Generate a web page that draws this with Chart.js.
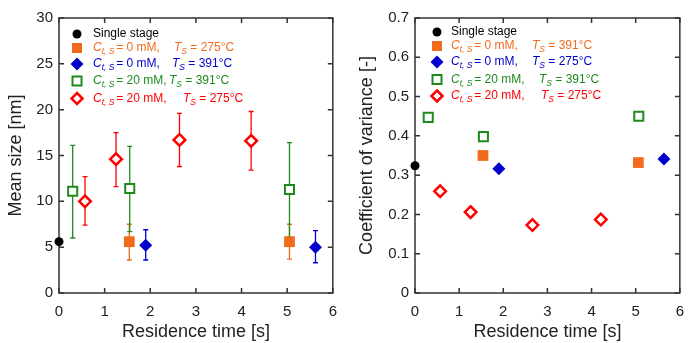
<!DOCTYPE html>
<html>
<head>
<meta charset="utf-8">
<script src="https://cdn.jsdelivr.net/npm/chart.js@4.4.1/dist/chart.umd.min.js"></script>
<style>
  html, body { margin: 0; padding: 0; background: #fff; }
  #wrap { position: relative; width: 694px; height: 343px; }
  #wrap canvas { position: absolute; top: 0; }
</style>
</head>
<body>
<div id="wrap">
  <canvas id="sizeChart" width="347" height="343" style="left:0"></canvas>
  <canvas id="cvChart" width="347" height="343" style="left:347px"></canvas>
</div>
<script>
// ---- data ----
const xTicks = [0, 1, 2, 3, 4, 5, 6];

// left panel: mean size [nm] with error bars
const singleX = [0];
const singleSize = [5.6];

const orangeX = [1.54, 5.05];
const orangeSize = [5.6, 5.6];
const orangeLo = [3.6, 3.7];
const orangeHi = [7.5, 7.5];

const blueX = [1.90, 5.62];
const blueSize = [5.2, 5.0];
const blueLo = [3.6, 3.3];
const blueHi = [6.9, 6.8];

const greenX = [0.30, 1.55, 5.05];
const greenSize = [11.1, 11.4, 11.3];
const greenLo = [6.0, 6.7, 6.1];
const greenHi = [16.1, 16.0, 16.4];

const redX = [0.57, 1.25, 2.64, 4.21];
const redSize = [10.0, 14.6, 16.7, 16.6];
const redLo = [7.4, 11.6, 13.8, 13.4];
const redHi = [12.7, 17.5, 19.6, 19.8];

// right panel: coefficient of variance [-]
const singleCvX = [0];
const singleCv = [0.324];
const orangeCvX = [1.54, 5.06];
const orangeCv = [0.350, 0.332];
const blueCvX = [1.90, 5.64];
const blueCv = [0.316, 0.341];
const greenCvX = [0.30, 1.55, 5.07];
const greenCv = [0.447, 0.398, 0.450];
const redCvX = [0.57, 1.26, 2.66, 4.21];
const redCv = [0.259, 0.206, 0.173, 0.187];

const leftLegend = [
  { c: null, t: null, label: 'Single stage' },
  { c: ' = 0 mM,', t: ' = 275°C' },
  { c: ' = 0 mM,', t: ' = 391°C' },
  { c: ' = 20 mM,', t: ' = 391°C' },
  { c: ' = 20 mM,', t: ' = 275°C' }
];
const rightLegend = [
  { c: null, t: null, label: 'Single stage' },
  { c: ' = 0 mM,', t: ' = 391°C' },
  { c: ' = 0 mM,', t: ' = 275°C' },
  { c: ' = 20 mM,', t: ' = 391°C' },
  { c: ' = 20 mM,', t: ' = 275°C' }
];

const BLACK = '#000000';
const ORANGE = '#f26b1d';
const BLUE = '#0000cc';
const GREEN = '#1e8a1e';
const RED = '#ff0000';
const FONT = '"Liberation Sans", Arial, Helvetica, sans-serif';

const pts = (xs, ys) => xs.map((v, i) => ({ x: v, y: ys[i] }));

// error bars drawn under the markers
const errorBars = {
  id: 'errorBars',
  beforeDatasetsDraw(chart) {
    const { ctx, scales: { x, y } } = chart;
    ctx.save();
    chart.data.datasets.forEach(ds => {
      if (!ds.errLo) return;
      ctx.strokeStyle = ds.borderColor;
      ctx.lineWidth = 1.3;
      ds.data.forEach((p, i) => {
        const px = x.getPixelForValue(p.x);
        const top = y.getPixelForValue(ds.errHi[i]);
        const bot = y.getPixelForValue(ds.errLo[i]);
        ctx.beginPath();
        ctx.moveTo(px, top); ctx.lineTo(px, bot);
        ctx.moveTo(px - 2.5, top); ctx.lineTo(px + 2.5, top);
        ctx.moveTo(px - 2.5, bot); ctx.lineTo(px + 2.5, bot);
        ctx.stroke();
      });
    });
    ctx.restore();
  }
};

// box with inward ticks on all four sides
const frame = {
  id: 'frame',
  beforeDatasetsDraw(chart) {
    const { ctx, chartArea: a, scales: { x, y } } = chart;
    ctx.save();
    ctx.strokeStyle = '#333';
    ctx.lineWidth = 1.5;
    ctx.strokeRect(a.left, a.top, a.right - a.left, a.bottom - a.top);
    ctx.beginPath();
    x.ticks.forEach(t => {
      const px = x.getPixelForValue(t.value);
      ctx.moveTo(px, a.bottom); ctx.lineTo(px, a.bottom - 5);
      ctx.moveTo(px, a.top); ctx.lineTo(px, a.top + 5);
    });
    y.ticks.forEach(t => {
      const py = y.getPixelForValue(t.value);
      ctx.moveTo(a.left, py); ctx.lineTo(a.left + 5, py);
      ctx.moveTo(a.right, py); ctx.lineTo(a.right - 5, py);
    });
    ctx.stroke();
    ctx.restore();
  }
};

function drawMarker(ctx, kind, color, cx, cy) {
  ctx.save();
  ctx.beginPath();
  if (kind === 'circle') {
    ctx.arc(cx, cy, 4.5, 0, Math.PI * 2);
    ctx.fillStyle = color; ctx.fill();
  } else if (kind === 'square') {
    ctx.fillStyle = color; ctx.fillRect(cx - 5, cy - 5, 10, 10);
  } else if (kind === 'diamond') {
    ctx.moveTo(cx, cy - 6.5); ctx.lineTo(cx + 6.5, cy); ctx.lineTo(cx, cy + 6.5); ctx.lineTo(cx - 6.5, cy);
    ctx.closePath(); ctx.fillStyle = color; ctx.fill();
  } else if (kind === 'osquare') {
    ctx.strokeStyle = color; ctx.lineWidth = 2; ctx.strokeRect(cx - 4.5, cy - 4.5, 9, 9);
  } else if (kind === 'odiamond') {
    ctx.moveTo(cx, cy - 5.5); ctx.lineTo(cx + 5.5, cy); ctx.lineTo(cx, cy + 5.5); ctx.lineTo(cx - 5.5, cy);
    ctx.closePath(); ctx.fillStyle = '#fff'; ctx.fill();
    ctx.strokeStyle = color; ctx.lineWidth = 2.5; ctx.stroke();
  }
  ctx.restore();
}

// text with an italic symbol and italic subscript, returns end x
function symText(ctx, x, y, sym, sub, rest, kern) {
  ctx.font = 'italic 12px ' + FONT;
  ctx.fillText(sym, x, y);
  x += ctx.measureText(sym).width;
  ctx.font = 'italic 8.5px ' + FONT;
  ctx.fillText(sub, x, y + 4);
  x += ctx.measureText(sub).width + kern;
  ctx.font = '12px ' + FONT;
  ctx.fillText(rest, x, y);
  return x + ctx.measureText(rest).width;
}

const legendKinds = ['circle', 'square', 'diamond', 'osquare', 'odiamond'];
const legendColors = [BLACK, ORANGE, BLUE, GREEN, RED];

const richLegend = {
  id: 'richLegend',
  afterDraw(chart, args, o) {
    const { ctx } = chart;
    ctx.save();
    ctx.textBaseline = 'middle';
    o.items.forEach((it, i) => {
      const ry = o.rows[i];
      drawMarker(ctx, legendKinds[i], legendColors[i], o.markerX, ry);
      ctx.fillStyle = legendColors[i];
      if (it.label) {
        ctx.font = '12px ' + FONT;
        ctx.fillText(it.label, o.textX, ry);
      } else {
        symText(ctx, o.textX, ry, 'C', 't, S', it.c, -1.5);
        symText(ctx, o.tX[i], ry, 'T', 'S', it.t, 0);
      }
    });
    ctx.restore();
  }
};

function buildDatasets(sx, sy, ox, oy, bx, by, gx, gy, rx, ry, bars) {
  const d = [
    { label: 'Single stage', data: pts(sx, sy), pointStyle: 'circle', pointRadius: 4.5,
      backgroundColor: BLACK, borderColor: BLACK, borderWidth: 0 },
    { label: 'orange', data: pts(ox, oy), pointStyle: 'rect', pointRadius: 7.6,
      backgroundColor: ORANGE, borderColor: ORANGE, borderWidth: 0 },
    { label: 'blue', data: pts(bx, by), pointStyle: 'rectRot', pointRadius: 6.5,
      backgroundColor: BLUE, borderColor: BLUE, borderWidth: 0 },
    { label: 'green', data: pts(gx, gy), pointStyle: 'rect', pointRadius: 6.4,
      backgroundColor: '#fff', borderColor: GREEN, borderWidth: 2 },
    { label: 'red', data: pts(rx, ry), pointStyle: 'rectRot', pointRadius: 5.8,
      backgroundColor: '#fff', borderColor: RED, borderWidth: 2.5 }
  ];
  if (bars) {
    bars.forEach((b, i) => {
      if (!b) return;
      d[i].errLo = b[0];
      d[i].errHi = b[1];
    });
  }
  d.forEach(ds => { ds.showLine = false; ds.clip = false; ds.pointHoverRadius = ds.pointRadius; });
  return d;
}

function makeOptions(yMin, yMax, yStep, yTitle, yWidth, padRight, titlePad, legend) {
  return {
    responsive: false,
    animation: false,
    layout: { padding: { top: 18, right: padRight, left: 0, bottom: 0 } },
    plugins: {
      legend: { display: false },
      tooltip: { enabled: false },
      richLegend: legend
    },
    scales: {
      x: {
        type: 'linear', min: 0, max: 6,
        afterBuildTicks: s => { s.ticks = xTicks.map(v => ({ value: v })); },
        afterFit: s => { s.height = 50; },
        grid: { display: false, drawTicks: false },
        border: { display: false },
        ticks: { padding: 10, color: '#222', font: { family: FONT, size: 15 } },
        title: { display: true, text: 'Residence time [s]', color: '#222',
                 font: { family: FONT, size: 18 }, padding: { top: 0, bottom: 0 } }
      },
      y: {
        type: 'linear', min: yMin, max: yMax,
        afterFit: s => { s.width = yWidth; },
        grid: { display: false, drawTicks: false },
        border: { display: false },
        ticks: { stepSize: yStep, padding: 6, color: '#222', font: { family: FONT, size: 15 } },
        title: { display: true, text: yTitle, color: '#222',
                 font: { family: FONT, size: 18 }, padding: { top: titlePad, bottom: 0 } }
      }
    }
  };
}

new Chart(document.getElementById('sizeChart'), {
  type: 'scatter',
  data: {
    datasets: buildDatasets(singleX, singleSize, orangeX, orangeSize, blueX, blueSize,
      greenX, greenSize, redX, redSize,
      [null, [orangeLo, orangeHi], [blueLo, blueHi], [greenLo, greenHi], [redLo, redHi]])
  },
  options: makeOptions(0, 30, 5, 'Mean size [nm]', 59, 13, 5, {
    items: leftLegend, markerX: 77, textX: 93,
    rows: [34, 48, 64, 81, 98.5], tX: [0, 174, 172, 169, 183]
  }),
  plugins: [frame, errorBars, richLegend]
});

new Chart(document.getElementById('cvChart'), {
  type: 'scatter',
  data: {
    datasets: buildDatasets(singleCvX, singleCv, orangeCvX, orangeCv, blueCvX, blueCv,
      greenCvX, greenCv, redCvX, redCv, null)
  },
  options: makeOptions(0, 0.7, 0.1, 'Coefficient of variance [-]', 68, 5, 9, {
    items: rightLegend, markerX: 90, textX: 104,
    rows: [32, 46, 62, 79.5, 96], tX: [0, 185, 185, 192, 194]
  }),
  plugins: [frame, errorBars, richLegend]
});
</script>
</body>
</html>
